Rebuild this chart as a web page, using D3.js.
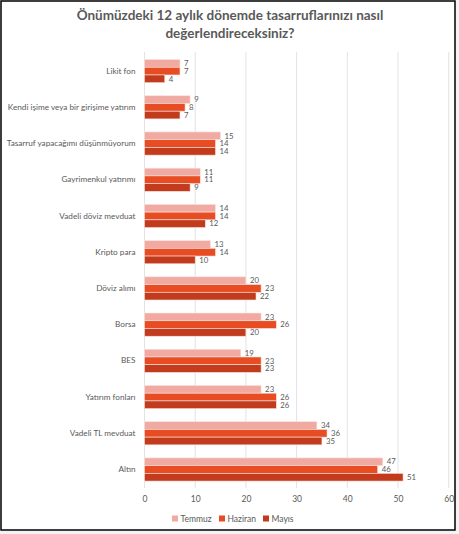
<!DOCTYPE html>
<html>
<head>
<meta charset="utf-8">
<script src="https://cdn.jsdelivr.net/npm/d3@7"></script>
<style>
  body { margin: 0; background: #f3f3f3; }
  svg { display: block; }
</style>
</head>
<body>
<script>
var width = 459, height = 534;

var categories = ['Likit fon', 'Kendi işime veya bir girişime yatırım', 'Tasarruf yapacağımı düşünmüyorum',
  'Gayrimenkul yatırımı', 'Vadeli döviz mevduat', 'Kripto para', 'Döviz alımı', 'Borsa', 'BES',
  'Yatırım fonları', 'Vadeli TL mevduat', 'Altın'];
var seriesNames = ['Temmuz', 'Haziran', 'Mayıs'];
var temmuz  = [7, 9, 15, 11, 14, 13, 20, 23, 19, 23, 34, 47];
var haziran = [7, 8, 14, 11, 14, 14, 23, 26, 23, 26, 36, 46];
var mayis   = [4, 7, 14, 9, 12, 10, 22, 20, 23, 26, 35, 51];
var xTicks = [0, 10, 20, 30, 40, 50, 60];
var colors = ['#f0aaa2', '#e84c23', '#c13b1c'];

var seriesValues = [temmuz, haziran, mayis];
var font = 'Lato, "Noto Sans", sans-serif';
var grey = '#595959';

var svg = d3.select('body').append('svg')
  .attr('width', width).attr('height', height);

svg.append('rect')
  .attr('x', 1).attr('y', 1).attr('width', 454).attr('height', 529)
  .attr('fill', '#fff').attr('stroke', '#000').attr('stroke-width', 1.5);

// title
svg.append('text')
  .attr('x', 230).attr('y', 20)
  .attr('text-anchor', 'middle')
  .attr('font-family', font).attr('font-weight', 'bold')
  .attr('font-size', 13.5).attr('fill', grey)
  .selectAll('tspan')
  .data(['Önümüzdeki 12 aylık dönemde tasarruflarınızı nasıl', 'değerlendireceksiniz?'])
  .enter().append('tspan')
  .attr('x', 230).attr('dy', (d, i) => i ? 18 : 0)
  .text(d => d);

var xscale = d3.scaleLinear().domain([0, 60]).range([144.5, 448.7]);
var yscale = d3.scaleBand().domain(categories).range([53, 487.6]).paddingInner(0.36).paddingOuter(0.18);
var inner = d3.scaleBand().domain(seriesNames).range([0, yscale.bandwidth()]);

// grid
svg.append('g')
  .selectAll('line').data(xTicks).enter().append('line')
  .attr('x1', d => xscale(d)).attr('x2', d => xscale(d))
  .attr('y1', 52).attr('y2', 488)
  .attr('stroke', '#e3e3e3').attr('stroke-width', 1);

// x axis
var xAxis = d3.axisBottom(xscale).tickValues(xTicks).tickSize(0).tickPadding(8);
var xg = svg.append('g').attr('transform', 'translate(0,488)').call(xAxis);
xg.select('.domain').remove();
xg.selectAll('text').attr('font-family', font).attr('font-size', 8.5).attr('fill', grey);

// y axis
var yAxis = d3.axisLeft(yscale).tickSize(0).tickPadding(9);
var yg = svg.append('g').attr('transform', 'translate(144.5,0)').call(yAxis);
yg.select('.domain').remove();
yg.selectAll('text').attr('font-family', font).attr('font-size', 8.2).attr('fill', grey);

// bars
var rows = [];
categories.forEach((c, i) => {
  seriesNames.forEach((s, j) => {
    rows.push({ cat: c, series: s, value: seriesValues[j][i], color: colors[j] });
  });
});

var groups = svg.append('g');
groups.selectAll('rect').data(rows).enter().append('rect')
  .attr('x', xscale(0))
  .attr('y', d => yscale(d.cat) + inner(d.series))
  .attr('width', d => xscale(d.value) - xscale(0))
  .attr('height', inner.bandwidth())
  .attr('fill', d => d.color)
  .attr('stroke', '#fbe3df').attr('stroke-width', 0.6);

groups.selectAll('text').data(rows).enter().append('text')
  .attr('x', d => xscale(d.value) + 4)
  .attr('y', d => yscale(d.cat) + inner(d.series) + inner.bandwidth() / 2)
  .attr('dy', '0.35em')
  .attr('font-family', font).attr('font-size', 7.8).attr('fill', grey)
  .text(d => d.value);

// legend
var legendX = [172, 219, 263];
var legend = svg.append('g').selectAll('g').data(seriesNames).enter().append('g')
  .attr('transform', (d, i) => 'translate(' + legendX[i] + ',519)');
legend.append('rect').attr('x', 0).attr('y', -3.5).attr('width', 6).attr('height', 6)
  .attr('fill', (d, i) => colors[i]);
legend.append('text').attr('x', 8.5).attr('y', 0).attr('dy', '0.35em')
  .attr('font-family', font).attr('font-size', 8.5).attr('fill', grey)
  .text(d => d);
</script>
</body>
</html>
